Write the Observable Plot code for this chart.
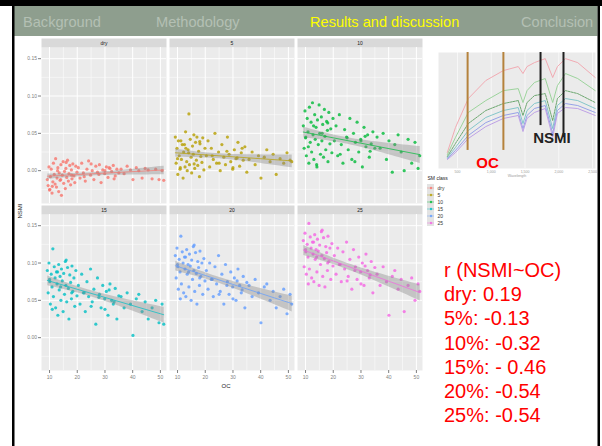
<!DOCTYPE html>
<html><head><meta charset="utf-8">
<script src="https://cdn.jsdelivr.net/npm/d3@7"></script>
<script src="https://cdn.jsdelivr.net/npm/@observablehq/plot@0.6"></script>
<style>
html,body{margin:0;padding:0;background:#fff;}
#slide{position:relative;width:602px;height:446px;overflow:hidden;font-family:"Liberation Sans",Arial,sans-serif;}
#slide > *{position:absolute;}
</style></head>
<body><div id="slide">
<svg id="deco" width="602" height="446" style="left:0;top:0"></svg>
<div id="main" style="left:0;top:31px"></div>
<div id="legend" style="left:420px;top:168px"></div>
<div id="inset" style="left:436px;top:48px"></div>
</div>
<script>
// ---------- data ----------
const classes = ["dry","5","10","15","20","25"];
const classColors = ["#F8766D","#B79F00","#00BA38","#00BFC4","#619CFF","#F564E3"];

const oc = [
  9.2, 9.5, 9.8, 10.1, 10.3, 10.6, 10.9, 11.2, 11.4, 11.7, 12.0, 12.2, 12.5, 12.7, 13.0,
  13.3, 13.5, 13.8, 14.1, 14.3, 14.6, 14.9, 15.1, 15.4, 15.7, 15.9, 16.2, 16.5, 16.8, 17.0,
  17.3, 17.6, 17.9, 18.1, 18.4, 18.8, 19.1, 19.5, 19.9, 10.0, 11.0, 12.9, 14.0, 16.0, 18.0,
  20.4, 21.0, 21.6, 22.2, 22.9, 23.5, 24.1, 24.8, 25.4, 26.0, 26.7, 27.3, 28.0, 28.6, 29.2,
  29.9, 30.5, 31.1, 31.8, 32.4, 33.0, 33.7, 34.3, 35.0, 22.5, 25.0, 27.8, 30.0, 31.5, 33.3,
  35.8, 36.9, 38.0, 39.2, 40.1, 41.3, 42.2, 43.4, 44.5, 45.6, 47.0, 48.3, 49.5, 50.6, 51.2
];
const nsmiDry = [
  -0.012, -0.020, 0.005, -0.025, -0.008, 0.002, -0.030, -0.015, 0.010, -0.005, -0.018, 0.016, -0.022, -0.010, 0.004,
  -0.028, -0.003, -0.013, 0.008, -0.033, -0.006, 0.012, -0.017, -0.001, -0.024, 0.003, -0.009, 0.014, -0.014, -0.004,
  0.007, -0.019, 0.001, -0.011, 0.009, -0.007, -0.016, 0.006, -0.002, -0.026, -0.021, 0.000, -0.012, 0.011, -0.006,
  0.004, -0.010, 0.010, -0.003, -0.014, 0.002, 0.013, -0.006, 0.000, -0.012, 0.006, -0.002, 0.008, -0.016, 0.001,
  -0.004, 0.005, -0.009, 0.003, -0.001, 0.007, -0.007, 0.002, -0.003, -0.008, 0.009, -0.005, 0.000, 0.004, -0.011,
  0.002, -0.004, 0.006, 0.001, -0.012, 0.004, 0.000, -0.010, 0.003, 0.001, -0.011, 0.002, -0.012, 0.000, -0.013
];
const nsmi5 = [
  0.045, 0.010, 0.030, -0.005, 0.040, 0.020, 0.002, 0.040, 0.015, 0.035, -0.010, 0.025, 0.035, 0.005, 0.030,
  0.012, 0.000, 0.028, 0.076, 0.008, 0.042, 0.018, -0.003, 0.033, 0.022, 0.048, 0.003, 0.038, 0.014, 0.045,
  0.007, 0.026, -0.008, 0.036, 0.019, 0.011, 0.044, 0.001, 0.030, 0.016, 0.004, 0.052, 0.024, 0.009, 0.039,
  0.020, 0.040, 0.005, 0.030, 0.015, 0.050, 0.010, 0.025, 0.000, 0.035, 0.018, 0.008, 0.045, 0.022, 0.012,
  0.002, 0.028, 0.016, 0.038, 0.006, 0.024, 0.014, 0.032, -0.002, 0.020, 0.010, 0.026, 0.004, 0.017, 0.030,
  0.015, 0.025, 0.008, 0.020, -0.010, 0.018, 0.028, 0.012, 0.022, -0.005, 0.016, 0.010, 0.024, 0.014, 0.012
];
const nsmi10 = [
  0.060, 0.030, 0.080, 0.045, 0.020, 0.070, 0.052, 0.010, 0.085, 0.038, 0.065, 0.025, 0.091, 0.048, 0.015,
  0.075, 0.042, 0.058, 0.005, 0.068, 0.035, 0.088, 0.050, 0.022, 0.072, 0.040, 0.062, 0.018, 0.082, 0.046,
  0.028, 0.066, 0.054, 0.012, 0.078, 0.036, 0.056, 0.024, 0.070, 0.044, 0.032, 0.060, 0.008, 0.050, 0.064,
  0.040, 0.060, 0.020, 0.075, 0.035, 0.010, 0.055, 0.045, 0.028, 0.070, 0.015, 0.050, 0.038, 0.065, 0.025,
  0.042, 0.005, 0.058, 0.032, 0.048, 0.018, 0.036, 0.052, 0.030, 0.022, 0.044, 0.012, 0.040, 0.046, 0.026,
  0.045, 0.030, 0.050, 0.015, 0.040, -0.002, 0.035, 0.048, 0.025, 0.000, 0.042, 0.010, 0.038, 0.003, 0.020
];
const nsmi15 = [
  0.090, 0.060, 0.100, 0.075, 0.045, 0.085, 0.068, 0.119, 0.055, 0.095, 0.080, 0.040, 0.088, 0.072, 0.030,
  0.098, 0.064, 0.082, 0.050, 0.092, 0.076, 0.035, 0.086, 0.058, 0.102, 0.070, 0.048, 0.094, 0.066, 0.025,
  0.084, 0.074, 0.052, 0.096, 0.062, 0.080, 0.042, 0.090, 0.056, 0.078, 0.038, 0.088, 0.068, 0.104, 0.060,
  0.070, 0.045, 0.085, 0.060, 0.035, 0.075, 0.055, 0.092, 0.048, 0.065, 0.018, 0.080, 0.058, 0.040, 0.070,
  0.052, 0.062, 0.030, 0.072, 0.050, 0.045, 0.066, 0.025, 0.056, 0.060, 0.042, 0.054, 0.038, 0.064, 0.048,
  0.055, 0.040, 0.060, 0.045, 0.003, 0.052, 0.058, 0.035, 0.048, 0.025, 0.040, 0.050, 0.020, 0.045, 0.018
];
const nsmi20 = [
  0.110, 0.080, 0.120, 0.095, 0.065, 0.105, 0.088, 0.136, 0.072, 0.115, 0.100, 0.060, 0.108, 0.092, 0.055,
  0.118, 0.085, 0.098, 0.068, 0.112, 0.096, 0.050, 0.104, 0.078, 0.122, 0.090, 0.062, 0.114, 0.086, 0.045,
  0.102, 0.094, 0.070, 0.116, 0.082, 0.100, 0.058, 0.106, 0.076, 0.098, 0.052, 0.108, 0.088, 0.124, 0.080,
  0.090, 0.065, 0.100, 0.078, 0.055, 0.095, 0.072, 0.110, 0.062, 0.085, 0.045, 0.098, 0.075, 0.058, 0.088,
  0.068, 0.080, 0.050, 0.092, 0.070, 0.060, 0.082, 0.040, 0.074, 0.078, 0.058, 0.070, 0.052, 0.076, 0.064,
  0.070, 0.055, 0.078, 0.060, 0.020, 0.068, 0.072, 0.050, 0.062, 0.040, 0.055, 0.065, 0.032, 0.058, 0.045
];
const nsmi25 = [
  0.130, 0.095, 0.140, 0.115, 0.085, 0.125, 0.108, 0.153, 0.092, 0.135, 0.120, 0.080, 0.128, 0.112, 0.075,
  0.138, 0.105, 0.118, 0.088, 0.132, 0.116, 0.070, 0.124, 0.098, 0.142, 0.110, 0.082, 0.134, 0.106, 0.068,
  0.122, 0.114, 0.090, 0.136, 0.102, 0.120, 0.078, 0.126, 0.096, 0.118, 0.072, 0.128, 0.108, 0.144, 0.100,
  0.110, 0.085, 0.120, 0.098, 0.075, 0.115, 0.092, 0.128, 0.082, 0.105, 0.065, 0.118, 0.095, 0.078, 0.108,
  0.088, 0.100, 0.070, 0.112, 0.090, 0.080, 0.102, 0.060, 0.094, 0.098, 0.076, 0.090, 0.072, 0.096, 0.084,
  0.085, 0.070, 0.095, 0.075, 0.030, 0.082, 0.090, 0.065, 0.078, 0.035, 0.070, 0.080, 0.050, 0.072, 0.062
];
const xTicks = [10, 20, 30, 40, 50];
const xMinor = [15, 25, 35, 45];
const yTicks = [0, 0.05, 0.10, 0.15];
const yMinor = [-0.025, 0.025, 0.075, 0.125];

const navItems = ["Background", "Methodology", "Results and discussion", "Conclusion"];
const navActive = "Results and discussion";
const corrTitle = "r (NSMI~OC)";
const corrLabels = ["dry", "5%", "10%", "15%", "20%", "25%"];
const corrValues = ["0.19", "-0.13", "-0.32", "- 0.46", "-0.54", "-0.54"];

// inset spectra
const wavelengths = [350, 470, 660, 920, 1180, 1400, 1470, 1530, 1640, 1800, 1910, 1980, 2100, 2280, 2540];
const specPink   = [0.097, 0.247, 0.422, 0.531, 0.591, 0.615, 0.573, 0.615, 0.639, 0.663, 0.549, 0.615, 0.663, 0.639, 0.549];
const specGreen  = [0.084, 0.187, 0.338, 0.410, 0.470, 0.482, 0.398, 0.470, 0.519, 0.543, 0.398, 0.500, 0.573, 0.543, 0.470];
const specOlive  = [0.072, 0.151, 0.271, 0.350, 0.392, 0.410, 0.320, 0.398, 0.440, 0.452, 0.289, 0.422, 0.470, 0.452, 0.398];
const specTeal   = [0.066, 0.127, 0.229, 0.308, 0.350, 0.368, 0.271, 0.350, 0.392, 0.410, 0.241, 0.380, 0.422, 0.410, 0.362];
const specBlue   = [0.060, 0.109, 0.199, 0.277, 0.320, 0.338, 0.241, 0.320, 0.362, 0.380, 0.211, 0.350, 0.392, 0.380, 0.338];
const specPurple = [0.054, 0.096, 0.181, 0.253, 0.302, 0.320, 0.223, 0.302, 0.338, 0.362, 0.187, 0.332, 0.368, 0.362, 0.320];
const specColors = ["#f2a3ab", "#93d093", "#5f9f62", "#78c2c6", "#8c9ae6", "#b999e4"];
const waveTicks = [500, 1000, 1500, 2000, 2500];
const ocBands = [650, 1180];
const ocBandEnd = 0.109;
const nsmiBands = [1730, 2070];
const nsmiBandEnds = [0.259, 0.187];

// ---------- decoration / slide ----------
const FONT = '"Liberation Sans", Arial, sans-serif';
const deco = d3.select("#deco");
deco.append("rect").attr("x", 0).attr("y", 0).attr("width", 602).attr("height", 6).attr("fill", "#000");
deco.append("rect").attr("x", 14).attr("y", 6).attr("width", 583.5).attr("height", 30).attr("fill", "#8e9e8e");
deco.append("rect").attr("x", 12).attr("y", 0).attr("width", 2.5).attr("height", 446).attr("fill", "#000");
deco.append("rect").attr("x", 597.5).attr("y", 0).attr("width", 2.5).attr("height", 446).attr("fill", "#000");
const navX = [23, 156, 310, 521];
navItems.forEach((t, i) => deco.append("text").attr("x", navX[i]).attr("y", 27)
  .attr("font-family", FONT).attr("font-size", 14.6)
  .attr("fill", t === navActive ? "#ffff00" : "#b4c0b4").text(t));
const corrLines = [corrTitle, ...corrLabels.map((l, i) => l + ": " + corrValues[i])];
corrLines.forEach((t, i) => deco.append("text").attr("x", 444).attr("y", 277 + 24.2 * i)
  .attr("font-family", FONT).attr("font-size", 20).attr("fill", "#ff0000").text(t));
deco.append("text").attr("transform", "translate(22,211) rotate(-90)").attr("text-anchor", "middle")
  .attr("font-family", FONT).attr("font-size", 6).attr("fill", "#222").text("NSMI");
deco.append("text").attr("x", 226).attr("y", 388).attr("text-anchor", "middle")
  .attr("font-family", FONT).attr("font-size", 6).attr("fill", "#222").text("OC");

// ---------- main faceted plot ----------
const series = [nsmiDry, nsmi5, nsmi10, nsmi15, nsmi20, nsmi25];
const rows = classes.flatMap((c, k) => oc.map((x, i) => ({oc: x, nsmi: series[k][i], cls: c, col: k % 3, row: Math.floor(k / 3)})));
const strips = classes.map((c, k) => ({cls: c, col: k % 3, row: Math.floor(k / 3)}));
const STRIP = 9;
const H = 370, MT = 7, MB = 31, PADY = 0.012;
const step = (H - MT - MB) / (2 - PADY);
const cellH = step * (1 - PADY);

const main = Plot.plot({
  width: 430, height: H, marginLeft: 40, marginRight: 7, marginTop: MT, marginBottom: MB,
  style: {fontFamily: FONT, fontSize: "5px", background: "transparent", overflow: "visible"},
  fx: {domain: [0, 1, 2], paddingInner: 0.025, paddingOuter: 0, axis: null},
  fy: {domain: [0, 1], paddingInner: PADY, paddingOuter: 0, axis: null},
  x: {domain: [7.1, 52.2]},
  y: {domain: [-0.044, 0.165], insetTop: STRIP},
  color: {domain: classes, range: classColors},
  marks: [
    Plot.frame({fill: "#ebebeb", stroke: null, insetTop: STRIP}),
    Plot.frame({fill: "#d9d9d9", stroke: null, insetBottom: cellH - STRIP}),
    Plot.ruleY(yMinor, {stroke: "#fff", strokeWidth: 0.5}),
    Plot.ruleX(xMinor, {stroke: "#fff", strokeWidth: 0.5, insetTop: STRIP}),
    Plot.ruleY(yTicks, {stroke: "#fff", strokeWidth: 1}),
    Plot.ruleX(xTicks, {stroke: "#fff", strokeWidth: 1, insetTop: STRIP}),
    Plot.text(strips, {fx: "col", fy: "row", text: "cls", frameAnchor: "top", dy: STRIP / 2, lineAnchor: "middle", fill: "#1a1a1a", fontSize: 5}),
    Plot.dot(rows, {fx: "col", fy: "row", x: "oc", y: "nsmi", fill: "cls", r: 1.6, fillOpacity: 0.8, stroke: null}),
    Plot.linearRegressionY(rows, {fx: "col", fy: "row", x: "oc", y: "nsmi", stroke: "cls", fill: "#8a8a8a", fillOpacity: 0.4, strokeWidth: 1, strokeOpacity: 0.7}),
    Plot.axisX({ticks: xTicks, tickSize: 3, tickPadding: 1.5, fontSize: 5, color: "#7f7f7f", label: null}),
    Plot.axisY({ticks: yTicks, tickFormat: d3.format(".2f"), tickSize: 3, tickPadding: 1.5, fontSize: 5, color: "#7f7f7f", label: null})
  ]
});
document.getElementById("main").appendChild(main);

// ---------- legend ----------
const legend = Plot.plot({
  width: 45, height: 62, marginLeft: 7, marginRight: 31, marginTop: 13, marginBottom: 2,
  style: {fontFamily: FONT, fontSize: "5px", background: "transparent", overflow: "visible"},
  y: {type: "band", domain: classes, paddingInner: 0.06, paddingOuter: 0, axis: null},
  color: {domain: classes, range: classColors},
  marks: [
    Plot.cell(classes, {y: d => d, fill: "#e3e3e3"}),
    Plot.ruleY(classes, {y: d => d, stroke: d => d, strokeWidth: 0.8, strokeOpacity: 0.5}),
    Plot.dot(classes, {y: d => d, fill: d => d, r: 1.2, frameAnchor: "middle", fillOpacity: 0.8}),
    Plot.text(classes, {y: d => d, text: d => d, frameAnchor: "right", textAnchor: "start", dx: 3, fill: "#333", fontSize: 5}),
    Plot.text(["SM class"], {text: d => d, frameAnchor: "top-left", textAnchor: "start", dy: -5, fill: "#222", fontSize: 5})
  ]
});
document.getElementById("legend").appendChild(legend);

// ---------- inset spectra ----------
const specs = [specPink, specGreen, specOlive, specTeal, specBlue, specPurple];
const insetMarks = [
  Plot.frame({fill: "#ebebeb", stroke: null}),
  Plot.ruleX(waveTicks, {stroke: "#fff", strokeWidth: 0.6}),
  ...specs.map((s, k) => Plot.line(wavelengths, {x: d => d, y: (d, i) => s[i], stroke: specColors[k], strokeWidth: 0.9, strokeDasharray: k === 2 ? "2,1" : null})),
  Plot.ruleX(ocBands, {x: d => d, y1: 0.7, y2: ocBandEnd, stroke: "#b5823c", strokeWidth: 2}),
  Plot.ruleX(nsmiBands, {x: d => d, y1: 0.7, y2: (d, i) => nsmiBandEnds[i], stroke: "#1f1f1f", strokeWidth: 2}),
  Plot.text(["OC"], {x: () => d3.mean(ocBands), y: () => 0.03, text: d => d, fill: "#ff0000", fontSize: 15, fontWeight: "bold", lineAnchor: "middle", dx: 2}),
  Plot.text(["NSMI"], {x: () => d3.mean(nsmiBands), y: () => 0.181, text: d => d, fill: "#222", fontSize: 15, fontWeight: "bold", lineAnchor: "middle"}),
  Plot.axisX({ticks: waveTicks, tickSize: 0, tickPadding: 2, fontSize: 3.5, color: "#999", label: null}),
  Plot.text(["Wavelength"], {text: d => d, frameAnchor: "bottom", dy: 8, fontSize: 3.5, fill: "#999"})
];
const inset = Plot.plot({
  width: 164, height: 134, marginLeft: 2, marginRight: 5, marginTop: 4, marginBottom: 14,
  style: {fontFamily: FONT, fontSize: "3.5px", background: "transparent", overflow: "visible"},
  x: {domain: [219, 2544]},
  y: {domain: [0, 0.7], axis: null},
  marks: insetMarks
});
document.getElementById("inset").appendChild(inset);
</script>
</body></html>
